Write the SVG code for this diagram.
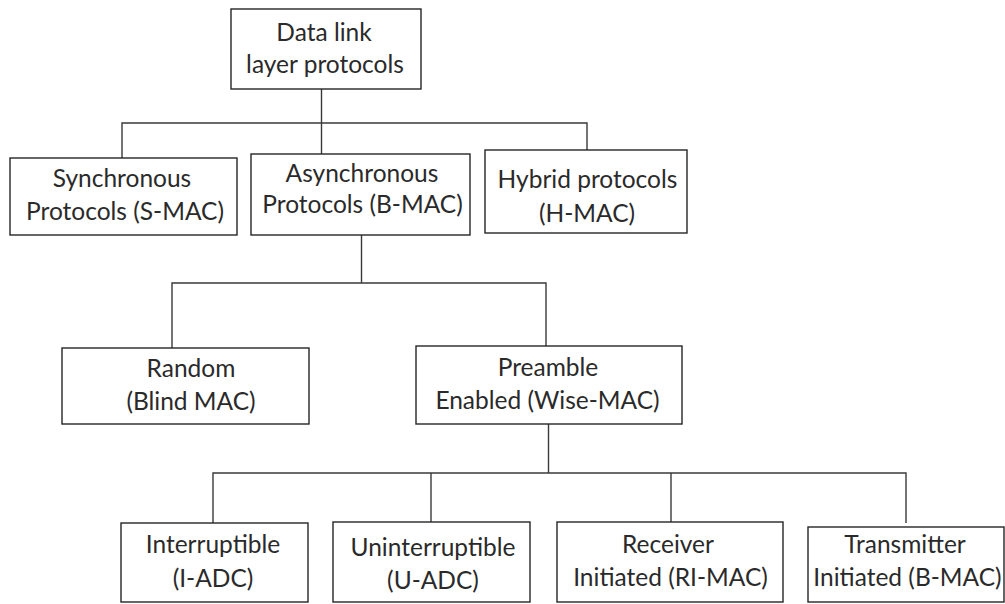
<svg xmlns="http://www.w3.org/2000/svg" width="1005" height="604" viewBox="0 0 1005 604">
<style>
.box{fill:#fff;stroke:#262626;stroke-width:1.4}
.lbl{font-family:Lato,"Open Sans","Liberation Sans",sans-serif;font-size:24.5px;fill:#2a2a2a;text-anchor:middle}
.con{fill:none;stroke:#3a3a3a;stroke-width:1.4}
</style>
<rect width="1005" height="604" fill="#fff"/>
<g id="connectors">
<path class="con" d="M321.5,89V123M122,158V123H587V150M321.5,123V154"/>
<path class="con" d="M361.5,235V283M172,348V283H546V346"/>
<path class="con" d="M548.5,424V473M213,523V473H906V523M431,473V522M671,473V522"/>
</g>
<g id="root"><rect class="box" x="231" y="9" width="190" height="80"/><text class="lbl"><tspan x="324" y="41">Data link</tspan><tspan x="325" y="73">layer protocols</tspan></text></g>
<g id="sync"><rect class="box" x="10" y="158" width="227" height="77"/><text class="lbl"><tspan x="122" y="187">Synchronous</tspan><tspan x="125" y="220">Protocols (S-MAC)</tspan></text></g>
<g id="async"><rect class="box" x="251" y="154" width="219" height="81"/><text class="lbl"><tspan x="362" y="182">Asynchronous</tspan><tspan x="362.5" y="213">Protocols (B-MAC)</tspan></text></g>
<g id="hybrid"><rect class="box" x="485" y="150" width="202" height="83"/><text class="lbl"><tspan x="587.5" y="188">Hybrid protocols</tspan><tspan x="587" y="222">(H-MAC)</tspan></text></g>
<g id="random"><rect class="box" x="62" y="348" width="247" height="76"/><text class="lbl"><tspan x="191" y="377">Random</tspan><tspan x="191" y="410">(Blind MAC)</tspan></text></g>
<g id="preamble"><rect class="box" x="416" y="346" width="266" height="78"/><text class="lbl"><tspan x="548" y="376">Preamble</tspan><tspan x="547.5" y="409">Enabled (Wise-MAC)</tspan></text></g>
<g id="interruptible"><rect class="box" x="121" y="523" width="187" height="79"/><text class="lbl"><tspan x="213" y="553">Interruptible</tspan><tspan x="213" y="587">(I-ADC)</tspan></text></g>
<g id="uninterruptible"><rect class="box" x="333" y="522" width="197" height="80"/><text class="lbl"><tspan x="433" y="556">Uninterruptible</tspan><tspan x="433" y="589">(U-ADC)</tspan></text></g>
<g id="receiver"><rect class="box" x="557" y="522" width="226" height="80"/><text class="lbl"><tspan x="668" y="553">Receiver</tspan><tspan x="670.5" y="586">Initiated (RI-MAC)</tspan></text></g>
<g id="transmitter"><rect class="box" x="808" y="527" width="196" height="75"/><text class="lbl"><tspan x="905" y="553">Transmitter</tspan><tspan x="907.5" y="586">Initiated (B-MAC)</tspan></text></g>
</svg>
